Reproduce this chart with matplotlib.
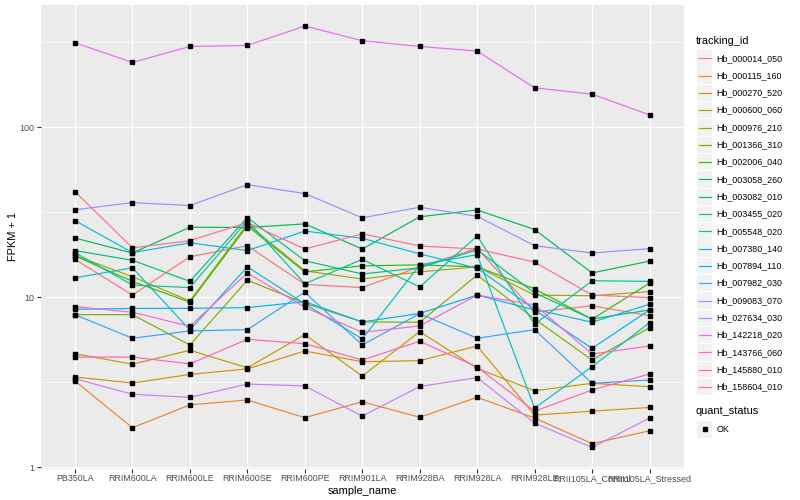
import numpy as np
import matplotlib
matplotlib.use("Agg")
import matplotlib.pyplot as plt
from matplotlib.lines import Line2D
from matplotlib.patches import Rectangle
from matplotlib.ticker import FixedLocator, NullFormatter

plt.rcParams['font.family'] = ['Liberation Sans', 'DejaVu Sans']

samples = ["PB350LA", "RRIM600LA", "RRIM600LE", "RRIM600SE", "RRIM600PE",
           "RRIM901LA", "RRIM928BA", "RRIM928LA", "RRIM928LE",
           "RRII105LA_Control", "RRII105LA_Stressed"]

tracking_ids = ["Hb_000014_050", "Hb_000115_160", "Hb_000270_520", "Hb_000600_060",
                "Hb_000976_210", "Hb_001366_310", "Hb_002006_040", "Hb_003058_260",
                "Hb_003082_010", "Hb_003455_020", "Hb_005548_020", "Hb_007380_140",
                "Hb_007894_110", "Hb_007982_030", "Hb_009083_070", "Hb_027634_030",
                "Hb_142218_020", "Hb_143766_060", "Hb_145880_010", "Hb_158604_010"]

# FPKM + 1 values per gene, one value per sample (in sample order)
hb_000014_050 = [16.7, 10.3, 17.3, 20.1, 11.9, 11.4, 15.1, 19.4, 8.2, 8.9, 7.8]
hb_000115_160 = [3.22, 1.71, 2.33, 2.49, 1.96, 2.43, 1.97, 2.58, 1.95, 1.38, 1.64]
hb_000270_520 = [3.40, 3.13, 3.52, 3.79, 4.83, 4.18, 4.24, 5.17, 2.03, 2.14, 2.25]
hb_000600_060 = [4.66, 4.04, 4.88, 3.85, 6.03, 3.44, 6.28, 3.82, 2.82, 3.12, 2.98]
hb_000976_210 = [17.6, 13.2, 9.51, 27.0, 14.3, 12.8, 14.1, 15.1, 10.3, 10.2, 10.8]
hb_001366_310 = [7.90, 7.90, 5.24, 12.6, 9.22, 7.16, 7.13, 13.5, 7.45, 4.28, 6.62]
hb_002006_040 = [17.5, 12.4, 9.35, 26.3, 14.1, 15.3, 15.5, 15.1, 11.2, 7.43, 12.1]
hb_003058_260 = [22.3, 18.2, 25.8, 25.7, 27.0, 19.2, 29.7, 32.6, 25.0, 13.9, 16.3]
hb_003082_010 = [18.8, 16.5, 12.4, 29.4, 16.4, 13.7, 14.9, 19.0, 10.6, 7.45, 8.42]
hb_003455_020 = [18.3, 11.8, 11.4, 28.2, 12.0, 16.7, 11.5, 22.9, 6.94, 12.5, 12.4]
hb_005548_020 = [13.0, 14.9, 6.42, 15.1, 9.14, 5.69, 15.5, 17.8, 2.23, 3.91, 7.09]
hb_007380_140 = [28.2, 18.3, 20.9, 18.8, 24.5, 22.2, 18.0, 14.8, 8.5, 7.13, 9.1]
hb_007894_110 = [8.50, 8.59, 8.61, 8.69, 9.42, 7.16, 8.03, 10.3, 8.42, 5.01, 8.42]
hb_007982_030 = [7.90, 5.74, 6.34, 6.45, 10.7, 5.24, 8.01, 5.74, 6.45, 3.12, 3.26]
hb_009083_070 = [32.7, 36.0, 34.6, 45.9, 40.7, 29.3, 33.8, 29.9, 20.1, 18.2, 19.3]
hb_027634_030 = [3.32, 2.69, 2.58, 3.09, 3.01, 2.00, 2.99, 3.37, 1.82, 1.31, 1.95]
hb_142218_020 = [313.3, 239.9, 297.9, 302.0, 392.6, 322.1, 297.9, 279.9, 170.2, 156.3, 118.0]
hb_143766_060 = [8.81, 8.16, 6.75, 13.9, 8.73, 6.22, 6.78, 10.3, 9.01, 4.64, 5.17]
hb_145880_010 = [4.45, 4.45, 4.06, 5.66, 5.33, 4.28, 5.51, 3.89, 2.14, 2.85, 3.54]
hb_158604_010 = [41.8, 19.5, 21.5, 27.5, 19.2, 23.6, 20.0, 19.2, 16.1, 10.3, 9.95]

series = [hb_000014_050, hb_000115_160, hb_000270_520, hb_000600_060, hb_000976_210,
          hb_001366_310, hb_002006_040, hb_003058_260, hb_003082_010, hb_003455_020,
          hb_005548_020, hb_007380_140, hb_007894_110, hb_007982_030, hb_009083_070,
          hb_027634_030, hb_142218_020, hb_143766_060, hb_145880_010, hb_158604_010]

colors = ["#F8766D", "#EA8331", "#D89000", "#C09B00", "#A3A500", "#7CAE00", "#39B600",
          "#00BB4E", "#00BF7D", "#00C1A3", "#00BFC4", "#00BAE0", "#00B0F6", "#35A2FF",
          "#9590FF", "#C77CFF", "#E76BF3", "#FA62DB", "#FF62BC", "#FF6C91"]

W, H = 800, 500
fig = plt.figure(figsize=(8, 5), dpi=100)
fig.patch.set_facecolor("white")

pl, pr, pt, pb = 40.5, 684.0, 5.0, 468.5
ax = fig.add_axes([pl / W, 1 - pb / H, (pr - pl) / W, (pb - pt) / H])
ax.set_facecolor("#EBEBEB")

x = np.arange(len(samples))
for vals, col in zip(series, colors):
    ax.plot(x, vals, color=col, lw=0.85, zorder=3, solid_capstyle="butt")
for vals in series:
    ax.plot(x, vals, ls="none", marker="s", ms=2.6, color="black", zorder=4)

ax.set_yscale("log")
allv = np.log10(np.concatenate([np.asarray(s, float) for s in series]))
lo, hi = allv.min(), allv.max()
pad = (hi - lo) * 0.05
ax.set_ylim(10 ** (lo - pad), 10 ** (hi + pad))
ax.set_xlim(-0.6, len(samples) - 0.4)

ax.yaxis.set_major_locator(FixedLocator([1, 10, 100]))
ax.yaxis.set_minor_locator(FixedLocator([10 ** 0.5, 10 ** 1.5, 10 ** 2.5]))
ax.yaxis.set_minor_formatter(NullFormatter())
ax.set_yticklabels(["1", "10", "100"])
ax.set_xticks(x)
ax.set_xticklabels(samples)

ax.grid(True, which="major", color="white", lw=1.0, zorder=0)
ax.grid(True, which="minor", axis="y", color="white", lw=0.5, zorder=0)
ax.set_axisbelow(True)
for sp in ax.spines.values():
    sp.set_visible(False)
ax.tick_params(axis="both", which="major", length=2.6, width=0.8, color="#333333",
               labelsize=6.4, labelcolor="#4D4D4D", pad=1.5)
ax.tick_params(axis="y", which="minor", length=0)

ax.set_xlabel("sample_name", fontsize=7.9, color="black", labelpad=2)
ax.set_ylabel("FPKM + 1", fontsize=7.9, color="black", labelpad=1)

# legend (drawn manually, ggplot style)
def fx(px):
    return px / W

def fy(py):
    return 1 - py / H

fig.text(fx(696), fy(40.5), "tracking_id", fontsize=7.9, va="center", ha="left")
step = 17.3
for i, (name, col) in enumerate(zip(tracking_ids, colors)):
    cy = 58.3 + i * step
    fig.patches.append(Rectangle((fx(697), fy(cy + 8.2)), 15 / W, 16.4 / H,
                                 transform=fig.transFigure, facecolor="#F2F2F2",
                                 edgecolor="none"))
    fig.lines.append(Line2D([fx(698.5), fx(710.5)], [fy(cy), fy(cy)], color=col,
                            lw=0.85, transform=fig.transFigure))
    fig.text(fx(716.5), fy(cy), name, fontsize=6.4, va="center", ha="left")

fig.text(fx(696), fy(411.5), "quant_status", fontsize=7.9, va="center", ha="left")
fig.patches.append(Rectangle((fx(697), fy(429.3 + 8.2)), 15 / W, 16.4 / H,
                             transform=fig.transFigure, facecolor="#F2F2F2",
                             edgecolor="none"))
fig.lines.append(Line2D([fx(704.5)], [fy(429.3)], marker="s", ms=2.6, color="black",
                        ls="none", transform=fig.transFigure))
fig.text(fx(716.5), fy(429.3), "OK", fontsize=6.4, va="center", ha="left")

fig.savefig("out.png", dpi=100)
